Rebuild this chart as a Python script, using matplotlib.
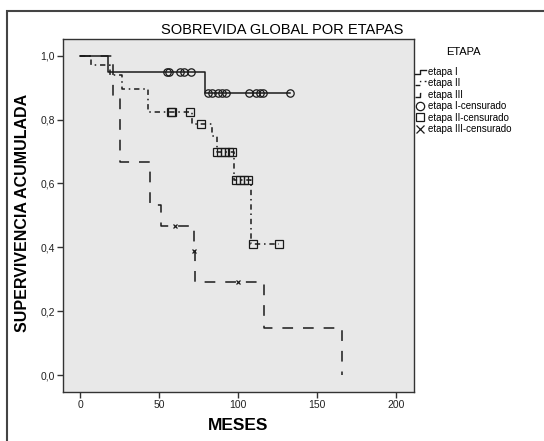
import numpy as np
import matplotlib
matplotlib.use('Agg')
import matplotlib.pyplot as plt
from matplotlib.lines import Line2D
from matplotlib.legend_handler import HandlerLine2D
from matplotlib.patches import Rectangle

plt.rcParams['font.family'] = ['Liberation Sans', 'DejaVu Sans']

# Curvas de Kaplan-Meier (meses, supervivencia acumulada)
tiempoEtapaI = [0, 18, 79, 133]
supervEtapaI = [1.0, 0.95, 0.883, 0.883]
tiempoEtapaII = [0, 7, 19, 26.5, 43, 71, 83.5, 86.7, 97.5, 108, 126]
supervEtapaII = [1.0, 0.97, 0.94, 0.895, 0.823, 0.786, 0.748, 0.698, 0.61, 0.41, 0.41]
tiempoEtapaIII = [0, 21, 25, 44.3, 51.3, 72, 73, 116.5, 165.8]
supervEtapaIII = [1.0, 0.867, 0.667, 0.533, 0.467, 0.389, 0.292, 0.146, 0.0]

# Casos censurados
censTiempoI = [55, 56, 63, 65.5, 70, 81, 83.5, 87.3, 90, 92.4, 107, 111.4, 114, 115.8, 133]
censSupervI = [0.95, 0.95, 0.95, 0.95, 0.95, 0.883, 0.883, 0.883, 0.883, 0.883,
               0.883, 0.883, 0.883, 0.883, 0.883]
censTiempoII = [57.5, 58.5, 69.5, 76.5, 87, 89.5, 92, 94.5, 96, 98.5, 101, 103.5, 106, 109.5, 126]
censSupervII = [0.823, 0.823, 0.823, 0.786, 0.698, 0.698, 0.698, 0.698, 0.698,
                0.61, 0.61, 0.61, 0.61, 0.41, 0.41]
censTiempoIII = [60, 72, 100]
censSupervIII = [0.467, 0.389, 0.292]

etiquetasX = ['0', '50', '100', '150', '200']
valoresX = [0, 50, 100, 150, 200]
valoresY = [0.0, 0.2, 0.4, 0.6, 0.8, 1.0]
etiquetasY = ['0,0', '0,2', '0,4', '0,6', '0,8', '1,0']

colorLinea = '#1a1a1a'
estiloII = (0, (3.5, 2.5, 1, 2.5))
estiloIII = (0, (7, 6.5))


class HandlerEscalon(HandlerLine2D):
    '''
    Dibuja en la leyenda un pequeno escalon en lugar de una linea recta.
    '''
    def create_artists(self, legend, orig_handle, xdescent, ydescent, width, height, fontsize, trans):
        x0 = -xdescent
        x1 = x0 + width * 0.5
        x2 = x0 + width
        y0 = -ydescent + height * 0.15
        y1 = -ydescent + height * 0.75
        linea = Line2D([x0, x1, x1, x2], [y0, y0, y1, y1])
        self.update_prop(linea, orig_handle, legend)
        linea.set_transform(trans)
        return [linea]


fig = plt.figure(figsize=(5.44, 4.41), dpi=100)
ax = fig.add_axes([63/544, 1-392/441, (414-63)/544, (392-39)/441])
ax.set_facecolor('#e8e8e8')

ax.step(tiempoEtapaI, supervEtapaI, where='post', color=colorLinea, lw=1.1, linestyle='solid')
ax.step(tiempoEtapaII, supervEtapaII, where='post', color=colorLinea, lw=1.1, linestyle=estiloII)
ax.step(tiempoEtapaIII, supervEtapaIII, where='post', color=colorLinea, lw=1.1, linestyle=estiloIII)

ax.plot(censTiempoI, censSupervI, linestyle='none', marker='o', markersize=5.3,
        markerfacecolor='none', markeredgecolor=colorLinea, markeredgewidth=0.9)
ax.plot(censTiempoII, censSupervII, linestyle='none', marker='s', markersize=5.3,
        markerfacecolor='none', markeredgecolor=colorLinea, markeredgewidth=0.9)
ax.plot(censTiempoIII, censSupervIII, linestyle='none', marker='x', markersize=3.5,
        markeredgecolor=colorLinea, markeredgewidth=0.9)

ax.set_xlim(-10.8, 211.4)
ax.set_ylim(-0.053, 1.052)
ax.set_xticks(valoresX)
ax.set_xticklabels(etiquetasX)
ax.set_yticks(valoresY)
ax.set_yticklabels(etiquetasY)
ax.tick_params(length=4, width=1, labelsize=7.5, pad=2, color='#333333', labelcolor='#222222')
for lado in ax.spines.values():
    lado.set_linewidth(1)
    lado.set_color('#333333')

fig.text(282/544, 1-30/441, 'SOBREVIDA GLOBAL POR ETAPAS', ha='center', va='center', fontsize=10.5)
fig.text(23/544, 1-213/441, 'SUPERVIVENCIA ACUMULADA', ha='center', va='center',
         rotation=90, fontsize=11.5, fontweight='bold')
fig.text(238/544, 1-425/441, 'MESES', ha='center', va='center', fontsize=12.5, fontweight='bold')

# Leyenda
hI = Line2D([], [], color=colorLinea, lw=1, linestyle='solid')
hII = Line2D([], [], color=colorLinea, lw=1, linestyle=estiloII)
hIII = Line2D([], [], color=colorLinea, lw=1, linestyle=estiloIII)
hcI = Line2D([], [], linestyle='none', marker='o', markersize=6, markerfacecolor='none',
             markeredgecolor=colorLinea, markeredgewidth=0.9)
hcII = Line2D([], [], linestyle='none', marker='s', markersize=6, markerfacecolor='none',
              markeredgecolor=colorLinea, markeredgewidth=0.9)
hcIII = Line2D([], [], linestyle='none', marker='x', markersize=6,
               markeredgecolor=colorLinea, markeredgewidth=0.9)
etiquetas = ['etapa I', 'etapa II', 'etapa III', 'etapa I-censurado',
             'etapa II-censurado', 'etapa III-censurado']
leyenda = fig.legend([hI, hII, hIII, hcI, hcII, hcIII], etiquetas,
                     loc='upper left', bbox_to_anchor=(415/544, 1-47/441),
                     frameon=False, title='ETAPA', title_fontsize=8, fontsize=7,
                     handlelength=1.1, handletextpad=0.25, labelspacing=0.15,
                     borderpad=0, borderaxespad=0,
                     handler_map={hI: HandlerEscalon(), hII: HandlerEscalon(), hIII: HandlerEscalon()})
leyenda._legend_box.sep = 7

# Marco exterior
marco = Rectangle((7/544, -0.05), 1.2, 1.05-11/441, transform=fig.transFigure,
                  fill=False, lw=1.5, edgecolor='#444444', clip_on=False)
fig.patches.append(marco)

fig.savefig('out.png', dpi=100)
